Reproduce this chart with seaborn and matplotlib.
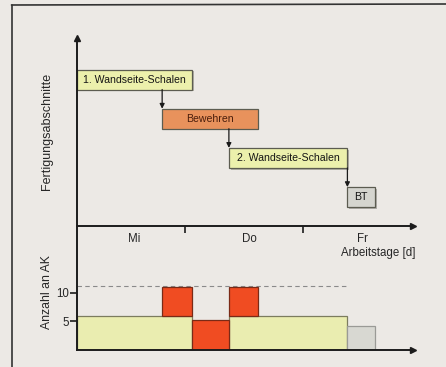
import matplotlib
matplotlib.use("Agg")
import matplotlib.pyplot as plt
import matplotlib.patheffects as pe
from matplotlib.lines import Line2D
import seaborn as sns
import pandas as pd

# tasks of the wall section (days from start of Mi)
tasks = ["1. Wandseite-Schalen", "Bewehren", "2. Wandseite-Schalen", "BT"]
start = [0.0, 0.74, 1.32, 2.35]
end = [1.0, 1.57, 2.35, 2.59]
workers = [5.8, 5.2, 5.8, 4.1]
stack_order = [0, 2, 3, 1]  # Schalen below Bewehren in the AK chart

days = ["Mi", "Do", "Fr"]
day_pos = [0.5, 1.5, 2.485]
day_ticks = [0.94, 1.96]
ak_ticks = [5, 10]
ak_limit = 11.1

box_col = ["#ecf0ac", "#e8925c", "#ecf0ac", "#d5d5cf"]
bar_col = ["#eaedb0", "#f04c22", "#eaedb0", "#d8d8d2"]
bar_edge = ["#7c7c5e", "#7a2a16", "#7c7c5e", "#9a9a96"]

sns.set_style("white")
plt.rcParams["font.family"] = ["Liberation Sans", "DejaVu Sans"]
bg = "#ece9e5"

fig = plt.figure(figsize=(4.46, 3.67), dpi=100, facecolor=bg)
W, H = 446, 367


def box(x0, y0, x1, y1):
    return [x0 / W, 1 - y1 / H, (x1 - x0) / W, (y1 - y0) / H]


ax_top = fig.add_axes(box(77, 38, 413, 226))
ax_bot = fig.add_axes(box(77, 226, 413, 349.5))
xmax = 2.92
axis_col = "#1c1c1c"

for ax in (ax_top, ax_bot):
    ax.set_facecolor("none")
    ax.set_xlim(0, xmax)
    for s in ("top", "right"):
        ax.spines[s].set_visible(False)
    for s in ("left", "bottom"):
        ax.spines[s].set_color(axis_col)
        ax.spines[s].set_linewidth(1.4)
    ax.plot(1, 0, ">", color=axis_col, ms=5, transform=ax.transAxes, clip_on=False)

# ---- top: sequence of work steps
ax_top.set_ylim(3.737, -1.059)
ax_top.plot(0, 1, "^", color=axis_col, ms=5, transform=ax_top.transAxes, clip_on=False)
shadow = [pe.SimplePatchShadow(offset=(1.2, -1.2), alpha=0.35), pe.Normal()]
for i, name in enumerate(tasks):
    b = ax_top.barh(i, end[i] - start[i], left=start[i], height=0.51,
                    color=box_col[i], edgecolor="#5c5c50", linewidth=0.9)
    for p in b:
        p.set_path_effects(shadow)
    ax_top.text((start[i] + end[i]) / 2, i, name, ha="center", va="center",
                fontsize=7.6, color="#4a1e0c" if name == "Bewehren" else "#151515")
    if i > 0:
        ax_top.annotate("", xy=(start[i], i - 0.255), xytext=(start[i], i - 1 + 0.255),
                        arrowprops=dict(arrowstyle="-|>", color="#1a1a1a", lw=0.9,
                                        mutation_scale=7, shrinkA=0, shrinkB=0))

ax_top.set_xticks(day_ticks)
ax_top.set_xticklabels([])
ax_top.set_yticks([])
ax_top.tick_params(axis="x", direction="out", length=5, width=1.2, color=axis_col, bottom=True)
tr = ax_top.get_xaxis_transform()
for d, x in zip(days, day_pos):
    ax_top.text(x, -0.069, d, transform=tr, ha="center", va="center", fontsize=8.3)
ax_top.text(2.62, -0.144, "Arbeitstage [d]", transform=tr, ha="center", va="center", fontsize=8.3)

# ---- bottom: number of workers (AK)
ax_bot.set_ylim(0, 21.67)
edges = sorted(set(start + end))
for i in stack_order:
    segs = []
    for a, b in zip(edges[:-1], edges[1:]):
        if a < start[i] or b > end[i]:
            continue
        below = sum(workers[j] for j in stack_order[:stack_order.index(i)]
                    if start[j] <= a and end[j] >= b)
        if segs and abs(segs[-1][2] - below) < 1e-9 and abs(segs[-1][1] - a) < 1e-9:
            segs[-1][1] = b
        else:
            segs.append([a, b, below])
    for a, b, below in segs:
        ax_bot.bar(a, workers[i], width=b - a, bottom=below, align="edge",
                   color=bar_col[i], edgecolor=bar_edge[i], linewidth=0.9, zorder=2)

lim = pd.DataFrame({"t": [0, end[2]], "ak": [ak_limit, ak_limit]})
sns.lineplot(data=lim, x="t", y="ak", ax=ax_bot, color="#8a8a8a", lw=0.8,
             dashes=False, linestyle=(0, (4, 3)), zorder=1)
ax_bot.set_xlabel("")
ax_bot.set_ylabel("")
ax_bot.set_xticks([])
ax_bot.set_yticks(ak_ticks)
ax_bot.set_yticklabels([str(t) for t in ak_ticks], fontsize=8.3)
ax_bot.tick_params(axis="y", direction="out", length=5, width=1.2, color=axis_col, left=True, pad=1)

fig.text(47 / W, 1 - 131 / H, "Fertigungsabschnitte", rotation=90, ha="center", va="center", fontsize=9)
fig.text(47 / W, 1 - 292 / H, "Anzahl an AK", rotation=90, ha="center", va="center", fontsize=8.8)

# frame of the figure page
fig.add_artist(Line2D([11.5 / W, 11.5 / W], [0, 1 - 5 / H], color="#333333", lw=1.2))
fig.add_artist(Line2D([11.5 / W, 1], [1 - 5 / H, 1 - 4 / H], color="#333333", lw=1.2))

fig.savefig("out.png", dpi=100, facecolor=bg)
